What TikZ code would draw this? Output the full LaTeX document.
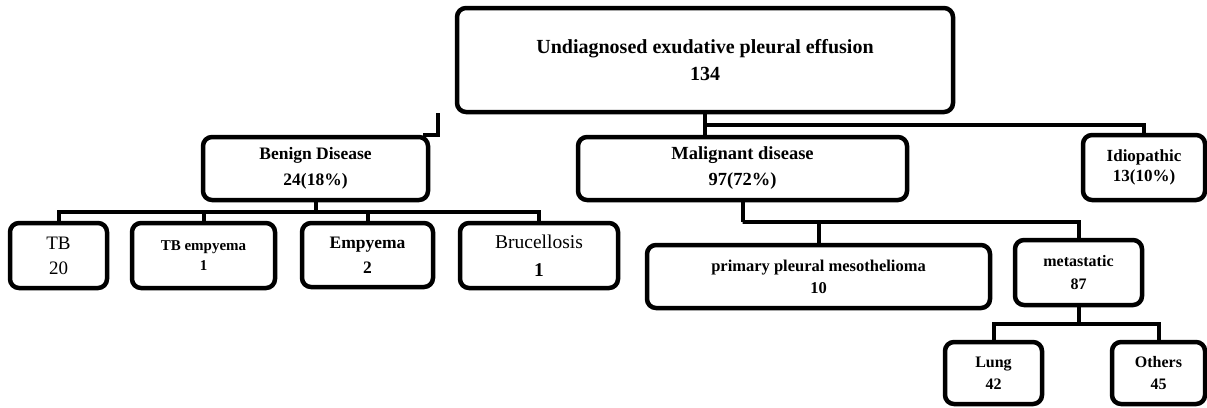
\documentclass[tikz,border=0pt]{standalone}
\usepackage{fontspec}
\setmainfont{Liberation Serif}
\begin{document}
\begin{tikzpicture}[x=1pt,y=-1pt,
  box/.style={draw, line width=4.5pt, rounded corners=9pt, inner sep=0pt, align=center, fill=white},
  conn/.style={line width=4pt},
]
\fill[white] (0,0) rectangle (1207,407);
\useasboundingbox (0,0) rectangle (1207,407);

% nodes
\node[box, minimum width=496pt, minimum height=104pt, font=\fontsize{20}{27}\selectfont\bfseries] (top) at (705,60) {Undiagnosed exudative pleural effusion\\134};
\node[box, minimum width=225pt, minimum height=63pt, font=\fontsize{17.5}{26}\selectfont\bfseries] (benign) at (315.5,168.5) {Benign Disease\\24(18\%)};
\node[box, minimum width=329pt, minimum height=63pt, font=\fontsize{18.5}{26}\selectfont\bfseries] (malig) at (742.5,168.5) {Malignant disease\\97(72\%)};
\node[box, minimum width=122pt, minimum height=65pt, font=\fontsize{17}{20}\selectfont\bfseries] (idio) at (1144,167.5) {Idiopathic\\13(10\%)};

\node[box, minimum width=97pt, minimum height=65pt, font=\fontsize{19}{25}\selectfont] (tb) at (58.5,255.5) {TB\\20};
\node[box, minimum width=143pt, minimum height=65pt, font=\fontsize{15}{20}\selectfont\bfseries] (tbe) at (203.5,255.5) {TB empyema\\1};
\node[box, minimum width=131pt, minimum height=64pt, font=\fontsize{17.5}{25}\selectfont\bfseries] (emp) at (367.5,255) {Empyema\\2};
\node[box, minimum width=158pt, minimum height=65pt, font=\fontsize{19.5}{28}\selectfont] (bru) at (539,255.5) {Brucellosis\\\textbf{1}};

\node[box, minimum width=343pt, minimum height=63pt, font=\fontsize{16.5}{22}\selectfont\bfseries] (ppm) at (818.5,276.5) {primary pleural mesothelioma\\10};
\node[box, minimum width=127pt, minimum height=65pt, font=\fontsize{16}{23}\selectfont\bfseries] (meta) at (1078.5,272.5) {metastatic\\87};

\node[box, minimum width=97pt, minimum height=62pt, font=\fontsize{16}{22}\selectfont\bfseries] (lung) at (993.5,373) {Lung\\42};
\node[box, minimum width=93pt, minimum height=62pt, font=\fontsize{16}{22}\selectfont\bfseries] (oth) at (1158.5,373) {Others\\45};

% bus coordinates
\coordinate (busI) at (705,125);
\coordinate (busB) at (315.5,212);
\coordinate (busM) at (742.5,222);
\coordinate (busT) at (1078.5,324);
\coordinate (hookA) at (423,135);
\coordinate (hookB) at (438,135);
\coordinate (hookC) at (438,113);

% connectors
\draw[conn] (top.south) -- (top.south |- malig.north);
\draw[conn] (busI) -| (idio.north);
\draw[conn] (hookA) -- (hookB) -- (hookC);

\draw[conn] (benign.south) -- (busB);
\draw[conn] (tb.north) |- (busB) -| (bru.north);
\draw[conn] (tbe.north) -- (tbe.north |- busB);
\draw[conn] (emp.north) -- (emp.north |- busB);

\draw[conn] (malig.south) -- (busM);
\draw[conn] (ppm.north) |- (busM) -| (meta.north);

\draw[conn] (meta.south) -- (busT);
\draw[conn] (lung.north) |- (busT) -| (oth.north);
\end{tikzpicture}
\end{document}
